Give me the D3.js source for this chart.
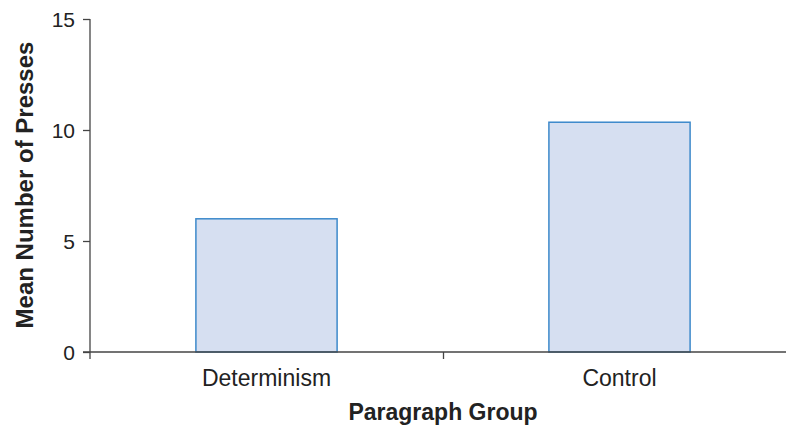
<!DOCTYPE html>
<html>
<head>
<meta charset="utf-8">
<script src="https://cdn.jsdelivr.net/npm/d3@7"></script>
<style>
  body { margin: 0; background: #fff; }
  svg { display: block; font-family: "Liberation Sans", Arial, sans-serif; }
</style>
</head>
<body>
<svg width="786" height="427"></svg>
<script>
var groups = ["Determinism", "Control"];
var meanPresses = [6.0, 10.35];
var yTicks = [0, 5, 10, 15];

var svg = d3.select("svg"),
    plotLeft = 90, plotRight = 796, plotTop = 19, plotBottom = 352;

var x = d3.scaleBand().domain(groups).range([plotLeft, plotRight]).paddingInner(0.6).paddingOuter(0.3);
var xEdge = d3.scaleLinear().domain([0, groups.length]).range([plotLeft, plotRight]);
var y = d3.scaleLinear().domain([0, 15]).range([plotBottom, plotTop]);

// bars
svg.append("g")
    .selectAll("rect")
    .data(groups)
    .enter()
    .append("rect")
    .attr("x", function(d) { return x(d); })
    .attr("y", function(d, i) { return y(meanPresses[i]); })
    .attr("width", x.bandwidth())
    .attr("height", function(d, i) { return y(0) - y(meanPresses[i]); })
    .attr("fill", "#d6dff1")
    .attr("stroke", "#3d89cb")
    .attr("stroke-width", 1.5);

// y axis
var gy = svg.append("g")
    .attr("transform", "translate(" + plotLeft + ",0)")
    .call(d3.axisLeft(y).tickValues(yTicks).tickSize(7).tickSizeOuter(0).tickPadding(8));
gy.select(".domain").attr("stroke", "#444").attr("stroke-width", 1.3)
    .attr("d", "M0," + (plotBottom + 7) + "V" + plotTop);
gy.selectAll(".tick line").attr("stroke", "#444").attr("stroke-width", 1.3);
gy.selectAll(".tick text")
    .attr("font-family", "Liberation Sans, Arial, sans-serif")
    .attr("font-size", "21px")
    .attr("dy", "0.36em")
    .attr("fill", "#222");

// x axis: boundary ticks
var gx = svg.append("g")
    .attr("transform", "translate(0," + plotBottom + ")")
    .call(d3.axisBottom(xEdge).tickValues([1]).tickSize(7).tickSizeOuter(0).tickFormat(""));
gx.select(".domain").attr("stroke", "#444").attr("stroke-width", 1.3)
    .attr("d", "M" + (plotLeft - 7) + ",0H" + plotRight);
gx.selectAll(".tick line").attr("stroke", "#444").attr("stroke-width", 1.3);

// x labels
var gxl = svg.append("g")
    .attr("transform", "translate(0," + plotBottom + ")")
    .call(d3.axisBottom(x).tickSize(0).tickPadding(18));
gxl.select(".domain").remove();
gxl.selectAll(".tick text")
    .attr("font-family", "Liberation Sans, Arial, sans-serif")
    .attr("font-size", "23px")
    .attr("fill", "#222");

// axis titles
svg.append("text")
    .attr("x", 443)
    .attr("y", 420)
    .attr("text-anchor", "middle")
    .attr("font-size", "23px")
    .attr("font-weight", "bold")
    .attr("fill", "#222")
    .text("Paragraph Group");

svg.append("text")
    .attr("transform", "rotate(-90)")
    .attr("x", -185)
    .attr("y", 33)
    .attr("text-anchor", "middle")
    .attr("font-size", "24px")
    .attr("font-weight", "bold")
    .attr("fill", "#222")
    .text("Mean Number of Presses");
</script>
</body>
</html>
